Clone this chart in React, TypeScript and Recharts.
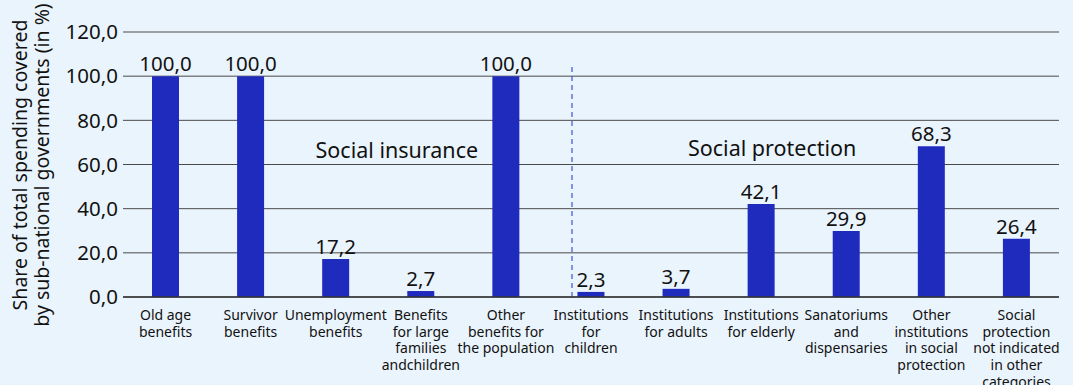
import React from "react";
import {
  BarChart,
  Bar,
  XAxis,
  YAxis,
  CartesianGrid,
  LabelList,
  ReferenceLine,
  ReferenceDot,
} from "recharts";

const categories: string[] = [
  "Old age\nbenefits",
  "Survivor\nbenefits",
  "Unemployment\nbenefits",
  "Benefits\nfor large\nfamilies\nandchildren",
  "Other\nbenefits for\nthe population",
  "Institutions\nfor\nchildren",
  "Institutions\nfor adults",
  "Institutions\nfor elderly",
  "Sanatoriums\nand\ndispensaries",
  "Other\ninstitutions\nin social\nprotection",
  "Social\nprotection\nnot indicated\nin other\ncategories",
];

const shares: number[] = [100.0, 100.0, 17.2, 2.7, 100.0, 2.3, 3.7, 42.1, 29.9, 68.3, 26.4];

const yTicks: number[] = [0, 20, 40, 60, 80, 100, 120];

const groupLabels = [
  { text: "Social insurance", category: categories[3], value: 63 },
  { text: "Social protection", category: categories[7], value: 64 },
];

const data = categories.map((c, i) => ({ category: c, share: shares[i] }));

const FONT = "'Noto Sans', 'Open Sans', sans-serif";
const fmt = (v: number) => v.toFixed(1).replace(".", ",");

const CategoryTick = (props: any) => {
  const { x, y, payload } = props;
  const lines = String(payload.value).split("\n");
  return (
    <g transform={`translate(${x},${y})`}>
      <text textAnchor="middle" fontSize={14} fill="#111" fontFamily={FONT}>
        {lines.map((l, i) => (
          <tspan key={i} x={0} y={15 + i * 16.7}>
            {l}
          </tspan>
        ))}
      </text>
    </g>
  );
};

const DashedDivider = (props: any) => {
  const { x1, y1, y2 } = props;
  const xx = x1 - 19;
  return (
    <line
      x1={xx}
      x2={xx}
      y1={y1}
      y2={y2 + 32}
      stroke="#4050dc"
      strokeWidth={1.2}
      strokeDasharray="5 4"
    />
  );
};

const YLabel = () => (
  <text
    transform={`translate(27, 165) rotate(-90)`}
    textAnchor="middle"
    fontSize={19.5}
    fill="#111"
    fontFamily={FONT}
  >
    <tspan x={0} y={0}>Share of total spending covered</tspan>
    <tspan x={0} y={22}>by sub-national governments (in %)</tspan>
  </text>
);

const groupLabelContent = (text: string, dx: number) => (props: any) => {
  const { viewBox } = props;
  const cx = viewBox.cx ?? viewBox.x;
  const cy = viewBox.cy ?? viewBox.y;
  return (
    <text
      x={cx + dx}
      y={cy}
      textAnchor="middle"
      fontSize={21.5}
      fill="#111"
      fontFamily={FONT}
    >
      {text}
    </text>
  );
};

export default function App() {
  return (
    <div
      style={{
        position: "fixed",
        left: 0,
        top: 0,
        width: 1073,
        height: 385,
        background: "#eaf4fd",
      }}
    >
      <BarChart
        width={1073}
        height={385}
        data={data}
        margin={{ top: 32, right: 14, bottom: 0, left: 0 }}
        barCategoryGap={0}
      >
        <CartesianGrid horizontal vertical={false} stroke="#4a4a4a" strokeWidth={1} />
        <XAxis
          dataKey="category"
          interval={0}
          tickLine={false}
          axisLine={{ stroke: "#333", strokeWidth: 1.5 }}
          tick={<CategoryTick />}
          height={88}
        />
        <YAxis
          width={123}
          domain={[0, 120]}
          ticks={yTicks}
          interval={0}
          tickFormatter={fmt}
          axisLine={false}
          tickLine={false}
          tickSize={0}
          tickMargin={5}
          tick={{ fontSize: 20.5, fill: "#111", fontFamily: FONT }}
          label={<YLabel />}
        />
        <ReferenceLine
          x={categories[5]}
          stroke="#4050dc"
          shape={<DashedDivider />}
          ifOverflow="visible"
        />
        {groupLabels.map((g, i) => (
          <ReferenceDot
            key={i}
            x={g.category}
            y={g.value}
            r={0}
            fill="none"
            stroke="none"
            ifOverflow="visible"
            label={groupLabelContent(g.text, i === 0 ? -24 : 11)}
          />
        ))}
        <Bar dataKey="share" fill="#1f2bbd" barSize={27} isAnimationActive={false}>
          <LabelList
            dataKey="share"
            position="top"
            offset={5}
            formatter={(v: any) => fmt(Number(v))}
            style={{ fontSize: 20.5, fill: "#111", fontFamily: FONT }}
          />
        </Bar>
      </BarChart>
    </div>
  );
}
